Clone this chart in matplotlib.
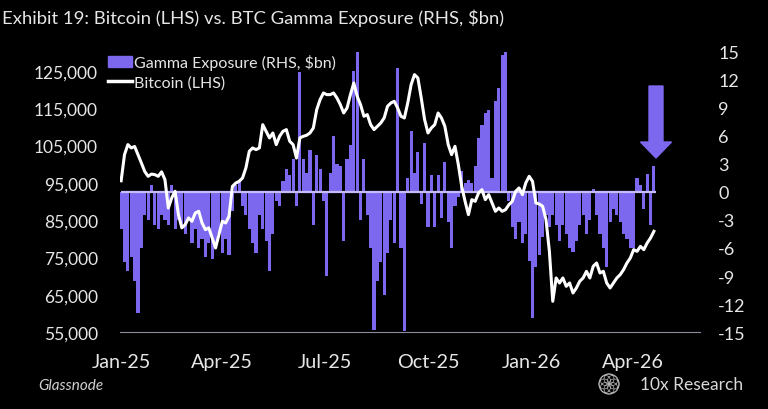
import matplotlib
matplotlib.use("Agg")
import matplotlib.pyplot as plt
import matplotlib.dates as mdates
from matplotlib.patches import FancyArrow, Circle
import numpy as np
import pandas as pd

plt.rcParams['font.family'] = ['Lato', 'DejaVu Sans']

# Bitcoin price (LHS), one reading every 3 days from 1 Jan 2025
btc = [95500, 102500, 105200, 104300, 104700, 102500, 100300, 98000, 96700, 97300,
       97150, 96700, 97900, 95800, 88200, 90900, 92700, 86400, 82900, 83760,
       85550, 84650, 86880, 87330, 84200, 82420, 82900, 80190, 77500, 81080,
       84650, 84200, 86000, 94000, 94900, 95360, 96250, 98940, 103400, 104300,
       103850, 104300, 110540, 108760, 106970, 108310, 105190, 107420, 108760, 109210,
       106080, 105190, 101600, 106970, 107420, 107690, 108310, 109650, 114560, 117240,
       119030, 118580, 118580, 119030, 117690, 115900, 113670, 115010, 118580, 121710,
       118130, 115900, 112780, 113220, 110540, 109210, 110100, 110990, 112330, 115460,
       116350, 116800, 115010, 112780, 112330, 116350, 121260, 123940, 123050, 117690,
       111890, 108310, 109650, 110540, 113670, 112330, 110100, 105190, 102510, 104740,
       99830, 94020, 90000, 86430, 90450, 90000, 92240, 93130, 90450, 91790,
       89560, 87330, 88220, 87330, 87770, 89110, 90000, 92680, 93580, 91790,
       94920, 96700, 95360, 89560, 89290, 88670, 85100, 76610, 63220, 69470,
       68130, 69470, 67230, 68130, 65450, 66790, 68580, 69470, 71250, 69470,
       72600, 73480, 70810, 71250, 68130, 66790, 68130, 69470, 70360, 71700,
       73480, 74820, 77060, 76610, 77950, 77060, 78840, 80180, 81970]

# BTC gamma exposure (RHS, $bn), same dates
gamma = [-4.0, -7.5, -8.5, -7.0, -9.5, -13.0, -6.0, -2.5, -3.0, 0.8,
         -3.5, -4.0, -2.5, -3.0, -3.5, 0.8, -4.0, -3.0, -3.5, -4.5,
         -3.0, -5.5, -4.0, -6.0, -5.0, -7.0, -5.5, -7.2, -6.0, -4.5,
         -6.5, -5.0, -6.8, -2.0, 0.8, 1.2, -1.5, -2.5, -4.0, -5.5,
         -6.5, -2.5, -4.0, -5.3, -8.5, -4.5, -1.0, -1.5, 1.2, 2.5,
         1.8, 3.5, -1.5, 12.9, 3.5, 2.0, 4.5, -3.5, 4.0, 2.5,
         -1.0, -9.0, 2.0, 6.0, 3.0, 2.8, -5.2, 3.5, 5.0, 13.0,
         15.0, -3.0, 3.5, -2.5, -6.0, -14.8, -9.5, -7.5, -11.0, -6.5,
         -3.0, -5.5, 13.3, -6.0, -14.9, 1.5, 6.5, 2.0, 4.3, -1.3,
         5.3, -3.8, 1.8, -3.8, 1.8, -2.8, 3.2, -3.2, -6.0, -1.5,
         -0.5, 2.2, 1.0, 1.3, 1.0, 2.8, 5.8, 7.2, 8.5, 8.8,
         1.5, 9.7, 11.1, 14.7, 15.0, -1.0, -3.8, -5.0, -3.2, -5.5,
         -4.5, -7.4, -13.5, -8.0, -6.8, -4.8, -2.5, -3.8, -2.5, -3.5,
         -5.3, -3.5, -4.5, -6.0, -6.4, -5.3, -3.5, -2.5, -4.5, -3.0,
         0.3, -2.5, -4.5, -6.0, -8.0, -3.2, -1.8, -2.5, -3.2, -4.5,
         -5.0, -6.0, -6.0, 1.5, 0.8, -1.8, 1.9, -3.5, 2.8]

dates = pd.date_range("2025-01-01", periods=len(btc), freq="3D")
left_ticks = [55000, 65000, 75000, 85000, 95000, 105000, 115000, 125000]
right_ticks = [-15, -12, -9, -6, -3, 0, 3, 6, 9, 12, 15]

purple = "#7B68EE"
txt = "#e6e6e6"

fig = plt.figure(figsize=(7.68, 4.10), dpi=100, facecolor="black")
ax = fig.add_axes([120/768, 1-333/410, 580/768, 280/410])
ax.set_facecolor("black")
ax2 = ax.twinx()

# gamma bars on the right axis
ax2.bar(dates, gamma, width=2.8, color=purple, linewidth=0)
ax2.hlines(0, dates[0], dates[-1] + pd.Timedelta(days=2), color="#c4bcff", lw=1.6)
ax2.set_ylim(-15, 15)
ax2.set_yticks(right_ticks)
ax2.set_yticklabels([str(t) for t in right_ticks])

# bitcoin line on top
ax.set_zorder(ax2.get_zorder() + 1)
ax.patch.set_visible(False)
ax.plot(dates, btc, color="white", lw=2.2)
ax.set_ylim(55000, 130000)
ax.set_yticks(left_ticks)
ax.set_yticklabels([f"{t:,}" for t in left_ticks])
ax.set_xlim(pd.Timestamp("2024-12-31"), pd.Timestamp("2026-05-31"))
ax.xaxis.set_major_locator(mdates.MonthLocator(bymonth=[1, 4, 7, 10]))
ax.xaxis.set_major_formatter(mdates.DateFormatter("%b-%y"))

for a in (ax, ax2):
    for s in a.spines.values():
        s.set_visible(False)
ax.tick_params(axis="y", length=0, colors=txt, labelsize=12.5, pad=16)
ax.tick_params(axis="x", length=0, colors=txt, labelsize=14.2, pad=15)
ax2.tick_params(axis="y", length=0, colors=txt, labelsize=13, pad=13)
ax.spines["bottom"].set_visible(True)
ax.spines["bottom"].set_color("#8c8c9a")

# legend
h1 = plt.Rectangle((0, 0), 1, 1, color=purple)
h2 = plt.Line2D([], [], color="white", lw=2.5)
fig.legend([h1, h2], ["Gamma Exposure (RHS, \\$bn)", "Bitcoin (LHS)"],
           loc="upper left", bbox_to_anchor=(108/768, 1-55/410), frameon=False,
           fontsize=11.5, labelcolor=txt, handlelength=1.5, handleheight=0.7,
           handletextpad=0.15, labelspacing=0.35, borderpad=0, borderaxespad=0)

fig.text(2/768, 1-18/410, "Exhibit 19: Bitcoin (LHS) vs. BTC Gamma Exposure (RHS, \\$bn)",
         color=txt, fontsize=13.3, va="center", ha="left")
fig.text(38/768, 1-386/410, "Glassnode", color="#d0d0d0", fontsize=11,
         style="italic", va="center")
fig.text(640/768, 1-385/410, "10x Research", color="#d8d8d8", fontsize=12.5, va="center")

# arrow pointing at the latest gamma bar
fig.add_artist(FancyArrow(656/768, 1-87/410, 0, -56/410, width=14/768,
                          head_width=31/768, head_length=16/410,
                          length_includes_head=False, color=purple,
                          transform=fig.transFigure))

# logo
lx = fig.add_axes([598/768, 1-396/410, 22/768, 22/410])
lx.set_xlim(-1.1, 1.1)
lx.set_ylim(-1.1, 1.1)
lx.axis("off")
lx.add_patch(Circle((0, 0), 1, fill=False, ec="#b8b8b8", lw=0.8))
for ang in np.arange(0, 360, 45):
    r = np.deg2rad(ang)
    lx.add_patch(Circle((0.5*np.cos(r), 0.5*np.sin(r)), 0.5, fill=False,
                        ec="#b8b8b8", lw=0.5))

fig.savefig("out.png", dpi=100, facecolor="black")
